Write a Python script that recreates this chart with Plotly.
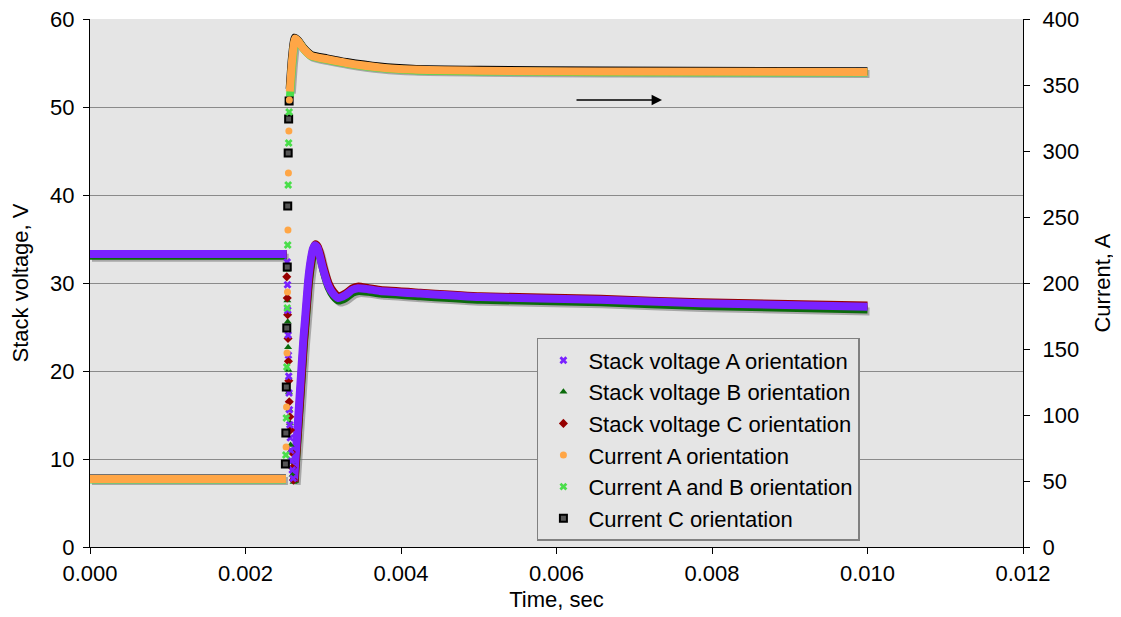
import plotly.graph_objects as go

# ---------------- data ----------------
# Stack voltage, V  (left axis)
VA_LINE_T = [0.0, 0.00253, None, 0.002624, 0.002659, 0.002701, 0.002743, 0.002765, 0.002808, 0.002842, 0.002868,
             0.002894, 0.002926, 0.002958, 0.002997, 0.003061, 0.003125, 0.00319, 0.00328, 0.00337, 0.003447,
             0.003576, 0.00373, 0.004244, 0.005016, 0.00656, 0.007846, 0.0100]
VA_LINE_V = [33.3, 33.3, None, 7.5, 12.2, 17.8, 23.5, 25.8, 30.5, 32.8, 33.9,
             34.3, 34.0, 33.0, 31.6, 29.8, 28.8, 28.3, 28.6, 29.2, 29.4,
             29.3, 29.1, 28.8, 28.4, 28.1, 27.7, 27.3]
VA_DROP_T = [0.002536, 0.002540, 0.002544, 0.002548, 0.002552, 0.002556, 0.002560, 0.002565, 0.002570,
             0.002576, 0.002583, 0.002592, 0.002602, 0.002613]
VA_DROP_V = [32.4, 29.8, 26.9, 24.1, 21.8, 19.4, 17.5, 15.6, 13.9, 12.4, 11.0, 9.8, 8.75, 7.8]

VB_LINE_T = [0.0, 0.00253, None, 0.002632, 0.002667, 0.002709, 0.002751, 0.002773, 0.002816, 0.00285, 0.002876,
             0.002902, 0.002934, 0.002966, 0.003005, 0.003069, 0.003133, 0.003198, 0.003288, 0.003378, 0.003455,
             0.003584, 0.003738, 0.004252, 0.005024, 0.006568, 0.007854, 0.0100]
VB_LINE_V = [33.1, 33.1, None, 7.3, 11.9, 17.4, 23.1, 25.4, 30.1, 32.4, 33.6,
             34.1, 33.8, 32.8, 31.3, 29.5, 28.5, 28.0, 28.3, 28.9, 29.1,
             29.0, 28.8, 28.5, 28.1, 27.8, 27.4, 27.0]
VB_DROP_T = [0.002533, 0.002538, 0.002543, 0.002548, 0.002553, 0.002558, 0.002564, 0.002571, 0.002580,
             0.002592, 0.002606, 0.002619]
VB_DROP_V = [31.5, 28.0, 25.6, 22.7, 20.1, 17.6, 15.6, 14.1, 11.6, 9.7, 8.2, 7.4]

VC_LINE_T = [0.0, 0.00253, None, 0.002630, 0.002665, 0.002707, 0.002749, 0.002771, 0.002814, 0.002848, 0.002874,
             0.002900, 0.002932, 0.002964, 0.003003, 0.003067, 0.003131, 0.003196, 0.003286, 0.003376, 0.003453,
             0.003582, 0.003736, 0.004250, 0.005022, 0.006566, 0.007852, 0.0100]
VC_LINE_V = [33.3, 33.3, None, 7.4, 12.0, 17.5, 23.2, 25.6, 30.3, 32.7, 33.9,
             34.4, 34.1, 33.2, 31.8, 30.0, 29.0, 28.5, 28.8, 29.4, 29.6,
             29.4, 29.2, 28.9, 28.5, 28.2, 27.8, 27.45]
VC_DROP_T = [0.002531, 0.002537, 0.002542, 0.002547, 0.002552, 0.002557, 0.002563, 0.002570, 0.002579,
             0.002590, 0.002603, 0.002616]
VC_DROP_V = [30.7, 28.3, 26.4, 23.7, 21.1, 18.9, 16.5, 14.8, 13.3, 10.8, 9.0, 7.6]

# Current, A  (right axis)
IA_LINE_T = [0.0, 0.00252, None, 0.00257, 0.0026, 0.002637, 0.00268, 0.00275, 0.00285, 0.00305, 0.0033,
             0.00373, 0.00415, 0.00502, 0.00656, 0.0100]
IA_LINE = [51.5, 51.5, None, 345.0, 369.0, 385.2, 383.0, 377.3, 372.0, 369.5, 366.7,
           363.3, 361.7, 360.8, 360.2, 359.9]
IA_JUMP_T = [0.002522, 0.002528, 0.002534, 0.00254, 0.002546, 0.002552, 0.002558, 0.002564]
IA_JUMP = [75.8, 106.1, 147.0, 193.2, 240.2, 283.3, 315.2, 338.6]

IAB_LINE_T = [0.0, 0.00252, None, 0.002572, 0.002603, 0.00264, 0.002683, 0.002753, 0.002853, 0.003053, 0.003303,
              0.003733, 0.004153, 0.005023, 0.006563, 0.0100]
IAB_LINE = [51.2, 51.2, None, 341.0, 366.5, 384.6, 382.6, 376.9, 371.6, 369.0, 366.2,
            362.8, 361.2, 360.3, 359.7, 359.4]
IAB_JUMP_T = [0.002519, 0.002525, 0.002531, 0.002537, 0.002543, 0.002549, 0.002555, 0.002561]
IAB_JUMP = [69.7, 97.7, 136.4, 181.1, 228.8, 274.2, 306.1, 329.5]

IC_LINE_T = [0.0, 0.00252, None, 0.002568, 0.002597, 0.002633, 0.002677, 0.002747, 0.002847, 0.003047, 0.003297,
             0.003727, 0.004147, 0.005017, 0.006557, 0.0100]
IC_LINE = [51.8, 51.8, None, 347.0, 370.5, 385.9, 383.7, 378.0, 372.7, 370.2, 367.4,
           364.0, 362.4, 361.5, 360.9, 360.5]
IC_JUMP_T = [0.002513, 0.002519, 0.002525, 0.002531, 0.002537, 0.002543, 0.002549, 0.002555, 0.002561]
IC_JUMP = [62.9, 86.4, 121.2, 165.9, 212.1, 258.3, 298.5, 324.2, 337.9]

X_TICKS = [0.000, 0.002, 0.004, 0.006, 0.008, 0.010, 0.012]
V_TICKS = [0, 10, 20, 30, 40, 50, 60]
I_TICKS = [0, 50, 100, 150, 200, 250, 300, 350, 400]

NAMES = ["Stack voltage A orientation", "Stack voltage B orientation", "Stack voltage C orientation",
         "Current A orientation", "Current A and B orientation", "Current C orientation"]

# ---------------- styles ----------------
PURPLE = "#7a22ff"
DKGREEN = "#0b6b0b"
DKRED = "#960000"
ORANGE = "#ffa646"
LTGREEN = "#4ade4a"
BLACK = "#000000"
SHADOW = "rgba(105,105,105,0.5)"
FONT = "Liberation Sans, Arial, sans-serif"
PLOT_BG = "#e5e5e5"
GRID = "#8a8a8a"

# plot area geometry (px) for shadow offsets
W, H = 933, 528
SX = 2 * 0.012 / W
SYV = 2 * 60 / H
SYI = 2 * 400 / H

fig = go.Figure()

# shadows (base, invisible axes x / y and y5)
fig.add_trace(go.Scatter(x=VB_LINE_T, y=VB_LINE_V, mode="lines", xaxis="x", yaxis="y",
                         line=dict(color=SHADOW, width=8, shape="spline", smoothing=0.5),
                         showlegend=False, hoverinfo="skip"))
fig.add_trace(go.Scatter(x=IA_LINE_T, y=IA_LINE, mode="lines", xaxis="x", yaxis="y5",
                         line=dict(color=SHADOW, width=8, shape="spline", smoothing=0.5),
                         showlegend=False, hoverinfo="skip"))

# voltage lines
for t, v, c in [(VB_LINE_T, VB_LINE_V, DKGREEN), (VC_LINE_T, VC_LINE_V, DKRED), (VA_LINE_T, VA_LINE_V, PURPLE)]:
    fig.add_trace(go.Scatter(x=t, y=v, mode="lines", xaxis="x2", yaxis="y2",
                             line=dict(color=c, width=8, shape="spline", smoothing=0.5), showlegend=False))
# current lines
for t, v, c in [(IC_LINE_T, IC_LINE, BLACK), (IAB_LINE_T, IAB_LINE, LTGREEN), (IA_LINE_T, IA_LINE, ORANGE)]:
    fig.add_trace(go.Scatter(x=t, y=v, mode="lines", xaxis="x2", yaxis="y3",
                             line=dict(color=c, width=8, shape="spline", smoothing=0.5), showlegend=False))

# marker traces (legend entries)
fig.add_trace(go.Scatter(x=VB_DROP_T, y=VB_DROP_V, mode="markers", xaxis="x2", yaxis="y2", name=NAMES[1],
                         legendrank=2, marker=dict(symbol="triangle-up", size=7, color=DKGREEN)))
fig.add_trace(go.Scatter(x=VC_DROP_T, y=VC_DROP_V, mode="markers", xaxis="x2", yaxis="y2", name=NAMES[2],
                         legendrank=3, marker=dict(symbol="diamond", size=7, color=DKRED)))
fig.add_trace(go.Scatter(x=VA_DROP_T, y=VA_DROP_V, mode="markers", xaxis="x2", yaxis="y2", name=NAMES[0],
                         legendrank=1, marker=dict(symbol="x", size=7, color=PURPLE)))
fig.add_trace(go.Scatter(x=IC_JUMP_T, y=IC_JUMP, mode="markers", xaxis="x2", yaxis="y3", name=NAMES[5],
                         legendrank=6, marker=dict(symbol="square", size=7, color="#555555",
                                                   line=dict(color=BLACK, width=2))))
fig.add_trace(go.Scatter(x=IAB_JUMP_T, y=IAB_JUMP, mode="markers", xaxis="x2", yaxis="y3", name=NAMES[4],
                         legendrank=5, marker=dict(symbol="x", size=7, color=LTGREEN)))
fig.add_trace(go.Scatter(x=IA_JUMP_T, y=IA_JUMP, mode="markers", xaxis="x2", yaxis="y3", name=NAMES[3],
                         legendrank=4, marker=dict(symbol="circle", size=7, color=ORANGE)))

axis_font = dict(family=FONT, size=22, color="#000000")

# the page body adds an 8 px margin, so the figure is sized/offset to compensate
fig.update_layout(
    width=1113, height=609,
    margin=dict(l=82, r=98, t=11, b=70, autoexpand=False),
    paper_bgcolor="white",
    plot_bgcolor=PLOT_BG,
    font=dict(family=FONT, size=22, color="#000000"),
    showlegend=True,
    legend=dict(x=0.479, y=0.396, xanchor="left", yanchor="top",
                bgcolor=PLOT_BG, bordercolor="#808080", borderwidth=1.5,
                font=dict(family=FONT, size=22, color="#000000"),
                traceorder="normal", itemwidth=40),
    xaxis=dict(range=[0 - SX, 0.012 - SX], visible=False, domain=[0, 1], automargin=False),
    yaxis=dict(range=[0 + SYV, 60 + SYV], visible=False, automargin=False),
    yaxis5=dict(range=[0 + SYI, 400 + SYI], visible=False, overlaying="y", anchor="x", automargin=False),
    xaxis2=dict(range=[0, 0.012], overlaying="x", anchor="y2", tickvals=X_TICKS, automargin=False,
                ticktext=[f"{v:.3f}" for v in X_TICKS], showgrid=False, zeroline=False,
                showline=True, linecolor="#000000", linewidth=1.3, ticks="outside", ticklen=6,
                tickcolor="#000000", tickfont=axis_font, ticklabeloverflow="allow",
                title=dict(text="Time, sec", font=axis_font, standoff=7)),
    yaxis2=dict(range=[0, 60], overlaying="y", anchor="x2", side="left", tickvals=V_TICKS, automargin=False,
                showgrid=True, gridcolor=GRID, gridwidth=1, zeroline=False,
                showline=True, linecolor="#000000", linewidth=1.3, ticks="outside", ticklen=6,
                tickcolor="#000000", tickfont=axis_font, ticklabelstandoff=4, ticklabeloverflow="allow",
                title=dict(text="Stack voltage, V", font=axis_font, standoff=20)),
    yaxis3=dict(range=[0, 400], overlaying="y", anchor="x2", side="right", tickvals=I_TICKS, automargin=False,
                showgrid=False, zeroline=False,
                showline=True, linecolor="#000000", linewidth=1.3, ticks="outside", ticklen=6,
                tickcolor="#000000", tickfont=axis_font, ticklabelstandoff=8, ticklabeloverflow="allow",
                title=dict(text="Current, A", font=axis_font, standoff=16)),
    annotations=[dict(x=0.007357, y=50.8, ax=0.006238, ay=50.8, xref="x2", yref="y2",
                      axref="x2", ayref="y2", text="", showarrow=True, arrowhead=2,
                      arrowsize=1.3, arrowwidth=1.6, arrowcolor="#000000")],
)

fig.write_html("out.html")
